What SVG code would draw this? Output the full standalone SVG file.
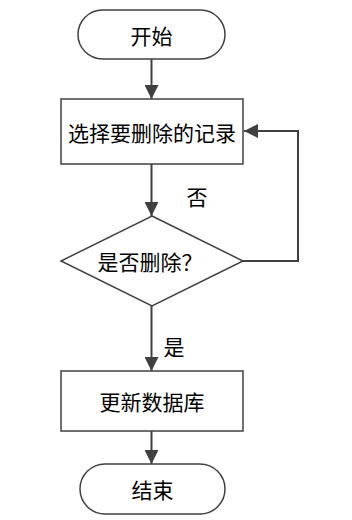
<svg xmlns="http://www.w3.org/2000/svg" width="352" height="520" viewBox="0 0 352 520">
<style>
.shape{fill:#fff;stroke:#404040;stroke-width:1.5}
.conn{fill:none;stroke:#404040;stroke-width:2}
text{font-family:"Noto Sans CJK SC","Noto Sans",sans-serif;font-size:21px;fill:#000;text-anchor:middle;dominant-baseline:central}
</style>
<defs>
<marker id="arr" markerUnits="userSpaceOnUse" markerWidth="14" markerHeight="14" refX="14" refY="7" orient="auto">
<path d="M0,0 L14,7 L0,14 Z" fill="#404040"/>
</marker>
</defs>
<rect width="352" height="520" fill="#fff"/>
<g id="connectors">
<line class="conn" x1="151.5" y1="59" x2="151.5" y2="99" marker-end="url(#arr)"/>
<line class="conn" x1="151.5" y1="164" x2="151.5" y2="216" marker-end="url(#arr)"/>
<polyline class="conn" points="243,261 298,261 298,131 244,131" marker-end="url(#arr)"/>
<line class="conn" x1="151.5" y1="306" x2="151.5" y2="371" marker-end="url(#arr)"/>
<line class="conn" x1="151.5" y1="431" x2="151.5" y2="464" marker-end="url(#arr)"/>
<text x="197" y="196">否</text>
<text x="174" y="346">是</text>
</g>
<g id="start">
<rect class="shape" x="78" y="10" width="147" height="49" rx="24.5"/>
<text x="151.5" y="35">开始</text>
</g>
<g id="select">
<rect class="shape" x="61" y="99" width="182" height="65"/>
<text x="152" y="132">选择要删除的记录</text>
</g>
<g id="decide">
<polygon class="shape" points="152,216 243,261 152,306 61,261"/>
<text x="150" y="261">是否删除？</text>
</g>
<g id="update">
<rect class="shape" x="61" y="371" width="182" height="60"/>
<text x="152" y="401">更新数据库</text>
</g>
<g id="end">
<rect class="shape" x="80" y="464" width="145" height="50" rx="25"/>
<text x="152.5" y="489">结束</text>
</g>
</svg>
